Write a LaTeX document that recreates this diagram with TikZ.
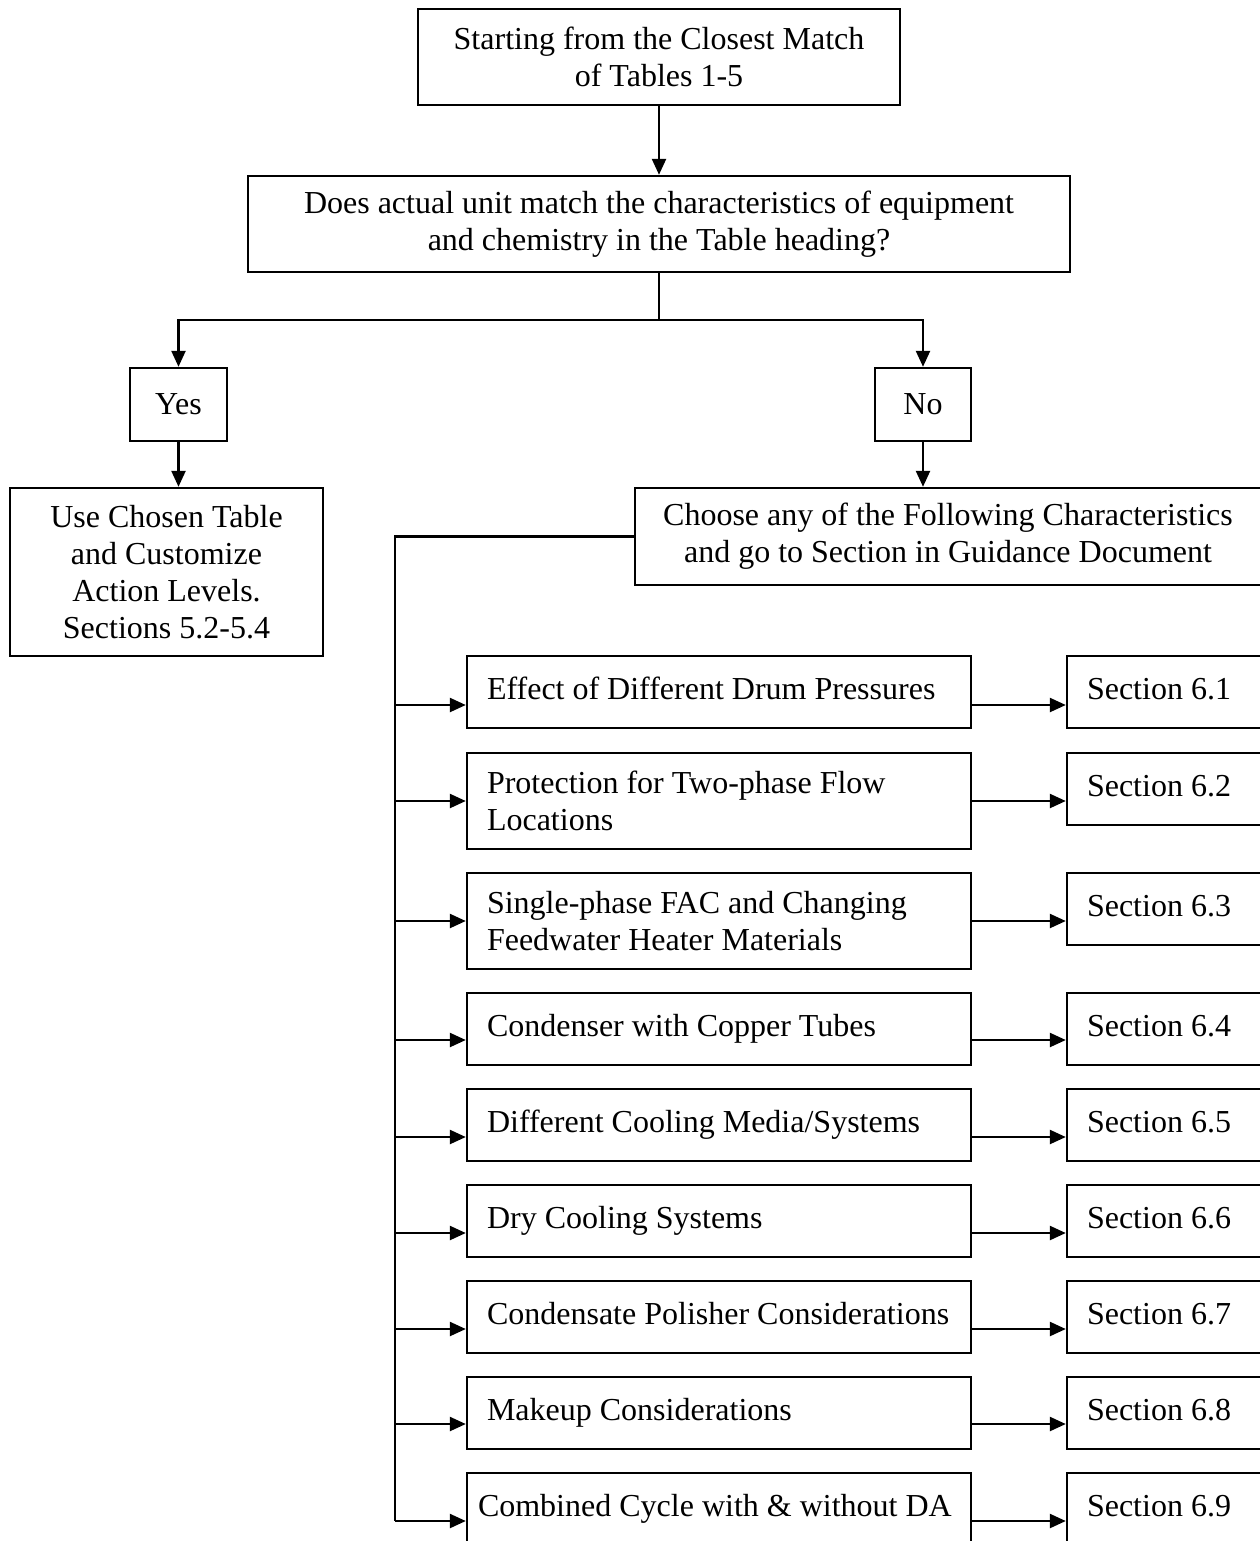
\documentclass[tikz,border=0pt]{standalone}
\usepackage{fontspec}
\setmainfont{Liberation Serif}
\usetikzlibrary{arrows.meta}
\begin{document}
\begin{tikzpicture}[x=0.5pt,y=-0.5pt,
  box/.style={draw, line width=1.2pt, rectangle, inner sep=0pt, font=\fontsize{16}{18.5}\selectfont},
  cbox/.style={box, align=center},
  lbox/.style={box, align=left, inner xsep=10pt, execute at begin node={\spaceskip=0pt\xspaceskip=0pt\relax}},
  ebox/.style={lbox, text width=232pt, minimum width=252pt},
  sbox/.style={lbox, text width=77.5pt, minimum width=97.5pt, minimum height=36pt, one},
  one/.style={text height=11pt, text depth=4pt},
  arr/.style={line width=1.2pt, -{Triangle[length=8pt,width=7pt]}},
  ln/.style={line width=1.2pt}]
\useasboundingbox (0,0) rectangle (1259,1541);

% upper part
\node[cbox, minimum width=241pt, minimum height=48pt] (top) at (659,57) {Starting from the Closest Match\\of Tables 1-5};
\node[cbox, minimum width=411pt, minimum height=48pt] (q) at (659,224) {Does actual unit match the characteristics of equipment\\and chemistry in the Table heading?};
\node[cbox, minimum width=48.5pt, minimum height=36.5pt] (yes) at (178.5,404.5) {Yes};
\node[cbox, minimum width=48pt, minimum height=36.5pt] (no) at (923,404.5) {No};
\node[cbox, minimum width=156.5pt, minimum height=84pt] (use) at (166.5,572) {Use Chosen Table\\and Customize\\Action Levels.\\Sections 5.2-5.4};
\node[cbox, minimum width=313pt, minimum height=48.5pt] (choose) at (948,536.5) {Choose any of the Following Characteristics\\and go to Section in Guidance Document};

\coordinate (j) at (659,320);
\draw[arr] (top.south) -- (top.south |- q.north);
\draw[ln] (q.south -| j) -- (j);
\draw[arr] (j) -| (yes.north);
\draw[arr] (j) -| (no.north);
\draw[arr] (yes.south) -- (yes.south |- use.north);
\draw[arr] (no.south) -- (no.south |- choose.north);

% characteristics
\node[ebox, minimum height=36pt, one] (e1) at (719,692) {\mbox{Effect of Different Drum Pressures}};
\node[ebox, minimum height=48pt] (e2) at (719,801) {\mbox{Protection for Two-phase Flow}\\\mbox{Locations}};
\node[ebox, minimum height=48pt] (e3) at (719,921) {\mbox{Single-phase FAC and Changing}\\\mbox{Feedwater Heater Materials}};
\node[ebox, minimum height=36pt, one] (e4) at (719,1029) {\mbox{Condenser with Copper Tubes}};
\node[ebox, minimum height=36pt, one] (e5) at (719,1125) {\mbox{Different Cooling Media/Systems}};
\node[ebox, minimum height=36pt, one] (e6) at (719,1221) {\mbox{Dry Cooling Systems}};
\node[ebox, minimum height=36pt, one] (e7) at (719,1317) {\mbox{Condensate Polisher Considerations}};
\node[ebox, minimum height=36pt, one] (e8) at (719,1413) {\mbox{Makeup Considerations}};
\node[ebox, minimum height=36pt, one, inner xsep=5.5pt, text width=241pt] (e9) at (719,1509) {\mbox{Combined Cycle with \& without DA}};

\node[sbox] (s1) at (1164.5,692) {\mbox{Section 6.1}};
\node[sbox] (s2) at (1164.5,789) {\mbox{Section 6.2}};
\node[sbox] (s3) at (1164.5,909) {\mbox{Section 6.3}};
\node[sbox] (s4) at (1164.5,1029) {\mbox{Section 6.4}};
\node[sbox] (s5) at (1164.5,1125) {\mbox{Section 6.5}};
\node[sbox] (s6) at (1164.5,1221) {\mbox{Section 6.6}};
\node[sbox] (s7) at (1164.5,1317) {\mbox{Section 6.7}};
\node[sbox] (s8) at (1164.5,1413) {\mbox{Section 6.8}};
\node[sbox] (s9) at (1164.5,1509) {\mbox{Section 6.9}};

\coordinate (t1) at (395,705);
\coordinate (t2) at (395,801);
\coordinate (t3) at (395,921);
\coordinate (t4) at (395,1040);
\coordinate (t5) at (395,1137);
\coordinate (t6) at (395,1233);
\coordinate (t7) at (395,1329);
\coordinate (t8) at (395,1424);
\coordinate (t9) at (395,1521);

\draw[ln] (choose.west) -| (t9);
\foreach \i in {1,...,9}{
  \draw[arr] (t\i) -- (e\i.west |- t\i);
  \draw[arr] (e\i.east |- t\i) -- (s\i.west |- t\i);
}
\end{tikzpicture}
\end{document}
